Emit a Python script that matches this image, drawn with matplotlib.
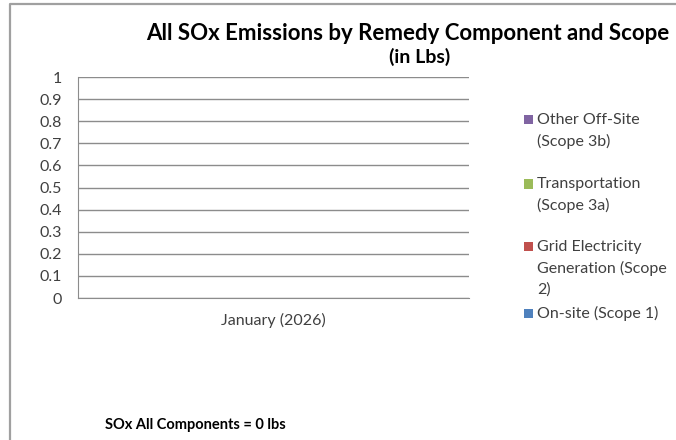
import matplotlib
matplotlib.use("Agg")
import matplotlib.pyplot as plt
from matplotlib.lines import Line2D
from matplotlib.patches import Rectangle

plt.rcParams['font.family'] = ['Lato', 'DejaVu Sans']

# ---- data ----
categories = ["January (2026)"]
series_names = ["On-site (Scope 1)", "Grid Electricity\nGeneration (Scope\n2)",
                "Transportation\n(Scope 3a)", "Other Off-Site\n(Scope 3b)"]
series_colors = ["#4F81BD", "#C0504D", "#9BBB59", "#8064A2"]
onsite = [0]
grid = [0]
transport = [0]
offsite = [0]
yticks = [0, 0.1, 0.2, 0.3, 0.4, 0.5, 0.6, 0.7, 0.8, 0.9, 1]
ytick_labels = ["0", "0.1", "0.2", "0.3", "0.4", "0.5", "0.6", "0.7", "0.8", "0.9", "1"]
total_text = "SOx All Components = 0 lbs"

W, H = 676, 440
fig = plt.figure(figsize=(W / 100, H / 100), dpi=100)

def fx(px):
    return px / W

def fy(py):
    return 1 - py / H

ax = fig.add_axes([fx(78), fy(298), fx(469) - fx(78), fy(77) - fy(298)])

values = [onsite, grid, transport, offsite]
x = list(range(len(categories)))
bottom = [0] * len(categories)
for vals, col, name in zip(values, series_colors, series_names):
    ax.bar(x, vals, bottom=bottom, color=col, width=0.5, label=name)
    bottom = [b + v for b, v in zip(bottom, vals)]

ax.set_xlim(-0.5, len(categories) - 0.5)
ax.set_ylim(0, 1)
ax.set_yticks(yticks)
ax.set_yticklabels(ytick_labels)
ax.set_xticks(x)
ax.set_xticklabels(categories)
ax.tick_params(axis='y', length=0, pad=11.5, labelsize=11.5, labelcolor='#404040')
ax.tick_params(axis='x', length=0, pad=11, labelsize=11.5, labelcolor='#404040')
ax.yaxis.grid(True, color='#8C8C8C', linewidth=1)
ax.set_axisbelow(True)
for s in ['top', 'right']:
    ax.spines[s].set_visible(False)
ax.spines['left'].set_color('#8C8C8C')
ax.spines['bottom'].set_color('#8C8C8C')

# title
fig.text(fx(408), fy(33), "All SOx Emissions by Remedy Component and Scope",
         ha='center', va='center', fontsize=16, fontweight='bold', color='black')
fig.text(fx(420), fy(57), "(in Lbs)", ha='center', va='center',
         fontsize=14, fontweight='bold', color='black')

# legend (top to bottom: reverse order of stacking)
legend_y = [120, 184, 247, 313]
line_pitch = 21.5
for name, col, y0 in zip(series_names[::-1], series_colors[::-1], legend_y):
    fig.patches.append(Rectangle((fx(524), fy(y0 + 4.5)), fx(9), fy(0) - fy(9),
                                 transform=fig.transFigure, facecolor=col,
                                 edgecolor='none'))
    for i, line in enumerate(name.split("\n")):
        fig.text(fx(537), fy(y0 + i * line_pitch), line, ha='left', va='center',
                 fontsize=11.5, color='#404040')

# total text
fig.text(fx(105), fy(425), total_text, ha='left', va='center',
         fontsize=10.5, fontweight='bold', color='black')

# chart border (left + top visible)
fig.add_artist(Line2D([fx(9.5), fx(9.5), fx(676)], [fy(440), fy(4.5), fy(4.5)],
                      transform=fig.transFigure, color='#A0A0A0', linewidth=1.6))

fig.savefig("out.png", dpi=100, facecolor='white')
